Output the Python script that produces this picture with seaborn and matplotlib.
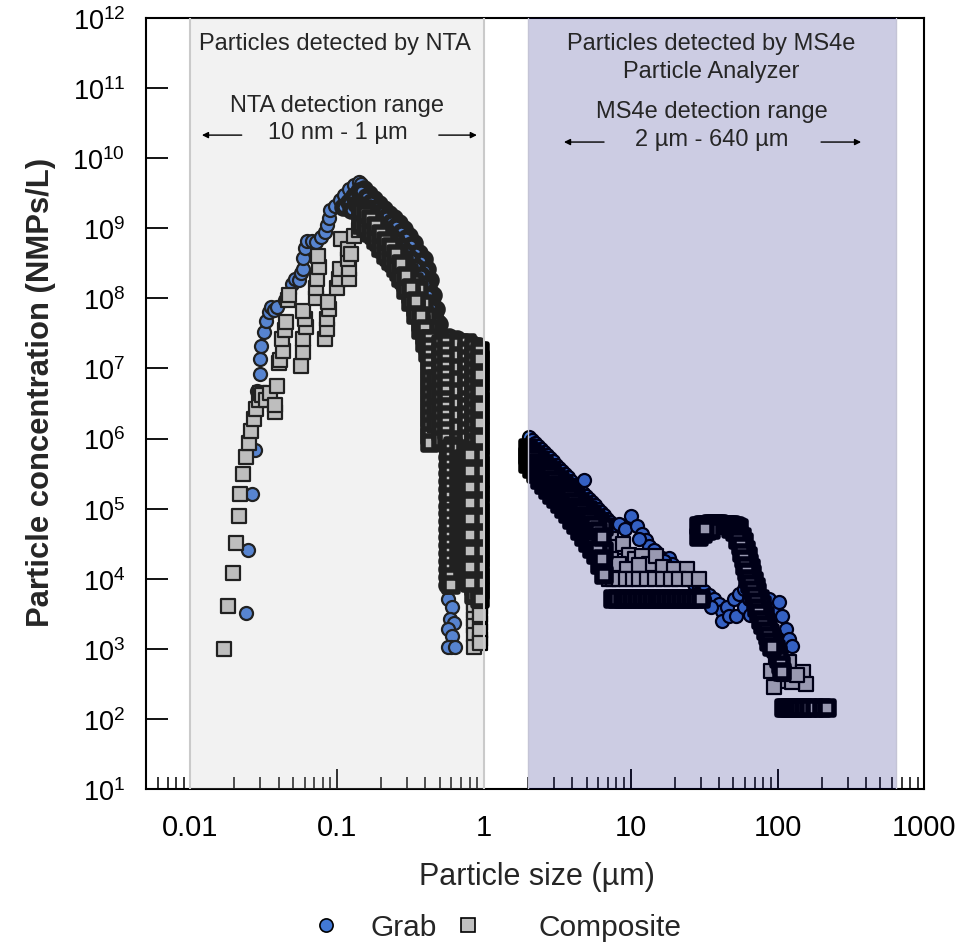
import numpy as np
import pandas as pd
import matplotlib
matplotlib.use('Agg')
import matplotlib.pyplot as plt
from matplotlib.lines import Line2D
from matplotlib.ticker import LogLocator, NullFormatter, NullLocator
import seaborn as sns

sns.set_style('ticks')
plt.rcParams['font.family'] = ['Liberation Sans', 'DejaVu Sans']
plt.rcParams['mathtext.fontset'] = 'custom'
plt.rcParams['mathtext.rm'] = 'Liberation Sans'
plt.rcParams['mathtext.default'] = 'regular'

# %% Data: (particle size in um, concentration in NMPs/L)
# "dense" lists are the heavily overplotted stretches that print as solid black
grab_nta = [
    (0.0238, 3.2e3), (0.0247, 2.6e4), (0.0263, 1.6e5), (0.0278, 6.8e5), (0.0284, 4.8e6),
    (0.0300, 8.3e6), (0.0300, 1.35e7), (0.0305, 2.1e7), (0.0316, 3.3e7), (0.0329, 4.7e7),
    (0.0343, 6.4e7), (0.0355, 7.5e7), (0.0370, 6.8e7), (0.0390, 7.4e7), (0.0440, 9.5e7),
    (0.0469, 1.2e8), (0.0490, 1.6e8), (0.0520, 1.9e8), (0.0550, 1.8e8), (0.0570, 2.3e8),
    (0.0590, 2.6e8), (0.0590, 3.7e8), (0.0608, 5.3e8), (0.0625, 6.6e8), (0.0676, 6.6e8),
    (0.0720, 6.3e8), (0.0780, 7.5e8), (0.0830, 8.7e8), (0.0855, 1.1e9), (0.0880, 1.4e9),
    (0.0900, 1.8e9), (0.0970, 2.1e9), (0.1050, 2.5e9), (0.1120, 3.0e9), (0.1200, 3.6e9),
    (0.1300, 4.2e9), (0.1400, 4.6e9), (0.1460, 4.3e9),
    (0.57, 5.1e3), (0.61, 4.0e3), (0.59, 2.7e3), (0.63, 2.3e3), (0.57, 1.9e3), (0.61, 1.5e3),
    (0.60, 1.05e3), (0.57, 1.05e3), (0.64, 1.05e3),
]

grab_nta_dense = [
    (0.1100, 2.0e9), (0.1200, 2.4e9), (0.1300, 2.9e9), (0.1400, 3.4e9), (0.1250, 1.8e9),
    (0.1350, 2.2e9), (0.1450, 2.6e9), (0.1550, 3.0e9),
    (0.152, 3.6e9), (0.152, 2.2e9), (0.164, 3.1e9), (0.164, 1.9e9), (0.178, 2.6e9),
    (0.178, 1.6e9), (0.192, 2.2e9), (0.192, 1.35e9), (0.208, 1.9e9), (0.208, 1.15e9),
    (0.225, 1.6e9), (0.225, 9.8e8), (0.243, 1.4e9), (0.243, 8.3e8), (0.264, 1.2e9),
    (0.264, 7.0e8), (0.285, 9.8e8), (0.285, 5.5e8), (0.308, 7.7e8), (0.308, 4.3e8),
    (0.333, 6.1e8), (0.333, 3.4e8), (0.360, 4.5e8), (0.360, 2.6e8), (0.390, 3.6e8),
    (0.390, 1.9e8), (0.409, 2.6e8), (0.409, 1.36e8), (0.429, 1.8e8), (0.429, 9.8e7),
    (0.449, 1.1e8), (0.449, 6.6e7), (0.471, 7.1e7), (0.471, 4.3e7), (0.493, 4.3e7),
    (0.493, 2.8e7),
    (0.146, 2.7e9), (0.158, 2.2e9), (0.171, 1.9e9), (0.185, 1.55e9), (0.200, 1.3e9),
    (0.216, 1.15e9), (0.234, 9.8e8), (0.253, 8.6e8), (0.274, 7.0e8), (0.296, 5.8e8),
    (0.321, 4.6e8), (0.347, 3.5e8), (0.375, 2.7e8), (0.399, 2.0e8), (0.418, 1.4e8),
    (0.439, 9.1e7), (0.460, 5.8e7), (0.482, 3.6e7),
    (0.146, 3.4e9), (0.158, 2.8e9), (0.171, 2.37e9), (0.185, 1.94e9), (0.200, 1.65e9),
    (0.216, 1.44e9), (0.234, 1.22e9), (0.253, 1.07e9), (0.274, 8.8e8), (0.296, 7.2e8),
    (0.321, 5.8e8), (0.347, 4.4e8), (0.375, 3.4e8), (0.399, 2.5e8), (0.418, 1.77e8),
    (0.439, 1.15e8), (0.460, 7.3e7), (0.482, 4.6e7),
    (0.146, 2.14e9), (0.158, 1.76e9), (0.171, 1.49e9), (0.185, 1.22e9), (0.200, 1.04e9),
    (0.216, 9.1e8), (0.234, 7.7e8), (0.253, 6.8e8), (0.274, 5.6e8), (0.296, 4.6e8),
    (0.321, 3.6e8), (0.347, 2.8e8), (0.375, 2.15e8), (0.399, 1.6e8), (0.418, 1.11e8),
    (0.439, 7.3e7), (0.460, 4.6e7), (0.482, 2.9e7),
    (0.52, 2.4e7), (0.58, 2.8e7), (0.66, 2.6e7), (0.74, 2.4e7), (0.82, 2.3e7), (0.90, 2.1e7),
    (0.55, 1.9e7), (0.55, 1.5e7), (0.55, 1.1e7), (0.55, 8.7e6), (0.55, 6.7e6), (0.55, 5.1e6),
    (0.55, 3.9e6), (0.60, 1.6e7), (0.60, 1.15e7), (0.60, 8.3e6), (0.60, 6.0e6), (0.60, 4.3e6),
    (0.77, 1.36e7), (0.77, 9.2e6), (0.77, 6.2e6), (0.77, 4.2e6),
    (0.90, 1.6e7), (0.90, 9.8e6), (0.90, 6.0e6), (0.90, 3.6e6),
    (0.56, 2.6e6), (0.56, 2.0e6), (0.56, 1.55e6), (0.56, 1.2e6), (0.56, 9.3e5), (0.56, 7.1e5),
    (0.56, 5.5e5), (0.56, 4.2e5), (0.56, 3.2e5), (0.56, 2.5e5), (0.56, 1.9e5), (0.56, 1.45e5),
    (0.56, 1.1e5), (0.56, 8.6e4), (0.56, 6.6e4), (0.56, 5.1e4), (0.56, 3.9e4), (0.56, 3.0e4),
    (0.56, 2.3e4), (0.56, 1.8e4), (0.56, 1.37e4), (0.56, 1.05e4), (0.56, 8.1e3),
]

comp_nta = [
    (0.0171, 1.0e3), (0.0181, 4.1e3), (0.0194, 1.2e4), (0.0204, 3.2e4), (0.0213, 7.8e4),
    (0.0219, 1.6e5), (0.0230, 3.1e5), (0.0238, 5.5e5), (0.0251, 8.7e5), (0.0261, 1.3e6),
    (0.0271, 1.9e6), (0.0282, 2.6e6), (0.0293, 3.6e6), (0.0300, 4.5e6), (0.0310, 4.2e6),
    (0.0330, 3.6e6), (0.0350, 4.4e6), (0.0375, 2.4e6), (0.0380, 3.0e6), (0.0390, 5.6e6),
    (0.0400, 1.2e7), (0.0410, 1.3e7), (0.0430, 1.8e7), (0.0420, 2.6e7), (0.0440, 3.5e7),
    (0.0450, 4.6e7), (0.0460, 9.4e7), (0.0470, 1.1e8), (0.0570, 1.1e7), (0.0590, 1.7e7),
    (0.0590, 2.6e7), (0.0610, 3.9e7), (0.0600, 5.0e7), (0.0590, 6.5e7), (0.0720, 1.0e8),
    (0.0720, 1.4e8), (0.0730, 1.9e8), (0.0750, 2.8e8), (0.0740, 4.0e8), (0.0830, 2.6e7),
    (0.0850, 3.6e7), (0.0860, 5.0e7), (0.0880, 7.1e7), (0.0870, 9.0e7), (0.1000, 1.4e8),
    (0.1030, 1.9e8), (0.1050, 2.6e8), (0.1070, 7.0e8), (0.1200, 1.9e8), (0.1200, 2.6e8),
    (0.1180, 3.6e8), (0.1180, 5.0e8), (0.1250, 4.3e8), (0.1300, 7.8e8), (0.1400, 9.5e8),
    (0.1500, 1.1e9),
    (0.86, 4.5e3), (0.86, 3.5e3), (0.86, 2.7e3), (0.86, 2.1e3), (0.86, 1.6e3), (0.86, 1.05e3),
    (0.94, 3.9e3), (0.94, 2.3e3), (0.94, 1.38e3), (0.94, 3.0e3), (0.94, 1.8e3), (0.94, 1.2e3),
]

comp_nta_dense = [
    (0.152, 1.3e9), (0.152, 1.9e9), (0.164, 1.05e9), (0.164, 1.6e9), (0.178, 8.0e8),
    (0.178, 1.3e9), (0.192, 6.3e8), (0.192, 9.8e8), (0.208, 5.0e8), (0.208, 7.7e8),
    (0.225, 3.9e8), (0.225, 6.3e8), (0.243, 3.2e8), (0.243, 5.0e8), (0.264, 2.4e8),
    (0.264, 4.0e8), (0.285, 1.8e8), (0.285, 3.1e8), (0.308, 1.3e8), (0.308, 2.3e8),
    (0.333, 9.0e7), (0.333, 1.7e8), (0.360, 5.7e7), (0.360, 1.3e8), (0.390, 3.6e7),
    (0.390, 8.3e7), (0.409, 2.6e7), (0.409, 5.4e7), (0.429, 1.9e7), (0.429, 3.6e7),
    (0.449, 1.36e7), (0.449, 2.2e7), (0.471, 9.8e6), (0.471, 1.6e7),
    (0.146, 1.4e9), (0.158, 1.27e9), (0.171, 1.08e9), (0.185, 8.6e8), (0.200, 6.6e8),
    (0.216, 5.2e8), (0.234, 4.3e8), (0.253, 3.5e8), (0.274, 2.5e8), (0.296, 1.65e8),
    (0.321, 1.12e8), (0.347, 7.3e7), (0.375, 4.5e7), (0.399, 2.9e7), (0.418, 2.1e7),
    (0.439, 1.5e7), (0.460, 1.05e7),
    (0.146, 1.11e9), (0.158, 1.0e9), (0.171, 8.6e8), (0.185, 6.8e8), (0.200, 5.2e8),
    (0.216, 4.15e8), (0.234, 3.4e8), (0.253, 2.7e8), (0.274, 1.95e8), (0.296, 1.31e8),
    (0.321, 8.9e7), (0.347, 5.8e7), (0.375, 3.5e7), (0.399, 2.3e7), (0.418, 1.66e7),
    (0.439, 1.19e7), (0.460, 8.6e6),
    (0.146, 1.76e9), (0.158, 1.6e9), (0.171, 1.35e9), (0.185, 1.07e9), (0.200, 8.3e8),
    (0.216, 6.6e8), (0.234, 5.4e8), (0.253, 4.3e8), (0.274, 3.1e8), (0.296, 2.08e8),
    (0.321, 1.39e8), (0.347, 9.1e7), (0.375, 5.6e7), (0.399, 3.6e7), (0.418, 2.6e7),
    (0.439, 1.9e7), (0.460, 1.36e7),
    (0.43, 2.6e7), (0.43, 2.0e7), (0.43, 1.55e7), (0.43, 1.2e7), (0.43, 9.2e6), (0.43, 7.1e6),
    (0.43, 5.5e6), (0.43, 4.2e6), (0.43, 3.2e6), (0.43, 2.5e6), (0.43, 1.9e6), (0.43, 1.45e6),
    (0.43, 1.1e6), (0.43, 8.6e5),
    (0.47, 7.1e6), (0.47, 4.3e6), (0.47, 2.6e6), (0.47, 1.6e6),
    (0.51, 2.2e7), (0.51, 1.7e7), (0.51, 1.3e7), (0.51, 1.0e7), (0.51, 7.7e6), (0.51, 6.0e6),
    (0.51, 4.6e6), (0.51, 3.5e6), (0.51, 2.7e6), (0.51, 2.1e6), (0.51, 1.6e6), (0.51, 1.24e6),
    (0.51, 9.5e5),
    (0.56, 2.3e7), (0.56, 1.77e7), (0.56, 1.36e7), (0.56, 1.05e7), (0.56, 8.05e6), (0.56, 6.2e6),
    (0.56, 4.76e6), (0.56, 3.6e6), (0.56, 2.81e6), (0.56, 2.16e6), (0.56, 1.66e6), (0.56, 1.28e6),
    (0.56, 9.8e5),
    (0.68, 2.2e7), (0.68, 1.5e7), (0.68, 1.0e7), (0.68, 6.9e6), (0.68, 4.6e6), (0.68, 3.1e6),
    (0.68, 2.1e6), (0.68, 1.4e6), (0.68, 9.5e5),
    (0.77, 2.3e7), (0.77, 1.77e7), (0.77, 1.36e7), (0.77, 1.05e7), (0.77, 8.05e6), (0.77, 6.2e6),
    (0.77, 4.76e6), (0.77, 3.6e6), (0.77, 2.81e6), (0.77, 2.16e6), (0.77, 1.66e6), (0.77, 1.28e6),
    (0.77, 9.8e5),
    (0.86, 2.0e7), (0.86, 1.55e7), (0.86, 1.2e7), (0.86, 9.2e6), (0.86, 7.1e6), (0.86, 5.5e6),
    (0.86, 4.2e6), (0.86, 3.2e6), (0.86, 2.5e6), (0.86, 1.9e6), (0.86, 1.45e6), (0.86, 1.1e6),
    (0.86, 8.6e5), (0.86, 6.6e5), (0.86, 5.1e5), (0.86, 3.9e5), (0.86, 3.0e5), (0.86, 2.3e5),
    (0.86, 1.75e5), (0.86, 1.37e5), (0.86, 1.05e5), (0.86, 8.1e4), (0.86, 6.2e4), (0.86, 4.8e4),
    (0.86, 3.7e4), (0.86, 2.8e4), (0.86, 2.2e4), (0.86, 1.66e4), (0.86, 1.28e4), (0.86, 1.0e4),
    (0.86, 7.6e3), (0.86, 5.9e3),
    (0.94, 1.8e7), (0.94, 1.05e7), (0.94, 6.2e6), (0.94, 3.6e6), (0.94, 2.1e6), (0.94, 1.3e6),
    (0.94, 7.6e5), (0.94, 4.4e5), (0.94, 2.6e5), (0.94, 1.6e5), (0.94, 9.2e4), (0.94, 5.4e4),
    (0.94, 3.2e4), (0.94, 1.9e4), (0.94, 1.1e4), (0.94, 6.7e3),
    (0.94, 1.36e7), (0.94, 8.05e6), (0.94, 4.76e6), (0.94, 2.81e6), (0.94, 1.66e6), (0.94, 9.8e5),
    (0.94, 5.8e5), (0.94, 3.4e5), (0.94, 2.03e5), (0.94, 1.2e5), (0.94, 7.1e4), (0.94, 4.2e4),
    (0.94, 2.5e4), (0.94, 1.47e4), (0.94, 8.7e3), (0.94, 5.1e3),
    (0.62, 7.9e5), (0.62, 6.1e5), (0.62, 4.7e5), (0.62, 3.6e5), (0.62, 2.8e5), (0.62, 2.1e5),
    (0.62, 1.65e5), (0.62, 1.27e5), (0.62, 9.8e4), (0.62, 7.5e4), (0.62, 5.8e4), (0.62, 4.5e4),
    (0.62, 3.4e4), (0.62, 2.6e4), (0.62, 2.0e4), (0.62, 1.55e4), (0.62, 1.2e4), (0.62, 9.2e3),
    (0.60, 7.1e5), (0.60, 5.4e5), (0.60, 4.2e5), (0.60, 3.2e5), (0.60, 2.5e5), (0.60, 1.9e5),
    (0.60, 1.46e5), (0.60, 1.1e5), (0.60, 8.6e4), (0.60, 6.6e4), (0.60, 5.1e4), (0.60, 3.9e4),
    (0.60, 3.0e4), (0.60, 2.3e4), (0.60, 1.78e4), (0.60, 1.37e4), (0.60, 1.05e4), (0.60, 8.1e3),
    (0.68, 7.1e5), (0.68, 4.2e5), (0.68, 2.5e5), (0.68, 1.48e5), (0.68, 8.6e4), (0.68, 5.1e4),
    (0.68, 3.0e4), (0.68, 1.8e4),
    (0.72, 5.1e5), (0.72, 3.0e5), (0.72, 1.75e5), (0.72, 1.05e5), (0.72, 6.2e4), (0.72, 3.7e4),
    (0.72, 2.2e4), (0.72, 1.28e4),
    (0.76, 6.6e5), (0.76, 3.9e5), (0.76, 2.3e5), (0.76, 1.37e5), (0.76, 8.1e4), (0.76, 4.8e4),
    (0.76, 2.8e4), (0.76, 1.66e4), (0.76, 1.0e4),
    (0.80, 5.8e5), (0.80, 3.4e5), (0.80, 2.03e5), (0.80, 1.2e5), (0.80, 7.1e4), (0.80, 4.2e4),
    (0.80, 2.5e4), (0.80, 1.47e4), (0.80, 8.7e3),
]

grab_ms4e = [
    (2.03, 1.05e6), (2.12, 9.5e5), (2.23, 8.6e5), (2.33, 7.8e5), (2.44, 7.1e5), (2.56, 6.4e5),
    (2.69, 5.8e5), (2.82, 5.3e5), (2.96, 4.8e5), (3.10, 4.2e5), (3.24, 3.8e5), (3.40, 3.4e5),
    (3.57, 3.1e5), (3.74, 2.8e5), (3.92, 2.5e5), (4.11, 2.2e5), (4.30, 2.0e5), (4.52, 1.8e5),
    (4.73, 1.65e5), (4.96, 1.5e5), (5.20, 1.37e5), (5.45, 1.24e5), (5.71, 1.13e5), (5.98, 9.8e4),
    (6.28, 8.9e4), (6.58, 8.1e4), (6.89, 7.1e4), (7.20, 6.4e4), (7.60, 5.8e4), (4.81, 2.6e5),
    (8.3, 6.1e4), (9.1, 5.1e4), (10.1, 7.9e4), (11.0, 5.6e4), (12.0, 4.4e4), (12.7, 3.6e4),
    (13.3, 2.9e4), (14.9, 2.4e4), (16.4, 2.0e4), (18.2, 2.0e4), (19.1, 1.6e4), (20.4, 1.37e4),
    (11.4, 3.7e4), (14.4, 2.6e4), (16.9, 1.8e4), (21.3, 1.3e4),
    (25.0, 1.0e4), (27.0, 8.4e3), (29.2, 7.6e3), (31.6, 6.7e3), (34.2, 5.9e3), (37.0, 5.1e3),
    (40.0, 4.4e3), (42.0, 3.5e3), (42.0, 2.5e3), (45.5, 4.0e3), (46.8, 2.9e3), (52.5, 2.9e3),
    (50.6, 5.1e3), (54.7, 6.0e3), (59.0, 7.1e3), (59.0, 4.0e3), (65.0, 3.0e3), (64.0, 5.1e3),
    (69.0, 4.4e3), (35.5, 4.0e3), (31.6, 5.1e3), (28.0, 6.0e3), (75.0, 5.4e3), (81.0, 5.1e3),
    (87.7, 5.1e3), (94.8, 3.7e3), (102.6, 4.6e3), (108.0, 2.9e3), (115.0, 1.9e3), (120.0, 1.4e3),
    (125.0, 1.1e3),
]

comp_ms4e = [
    (7.3, 3.7e4), (8.1, 2.8e4), (8.8, 3.1e4), (9.7, 2.2e4), (10.7, 1.9e4), (11.9, 2.1e4),
    (13.3, 1.6e4), (14.9, 2.1e4), (16.6, 1.45e4), (7.3, 1.9e4), (8.3, 1.6e4), (9.4, 1.37e4),
    (11.4, 1.57e4), (19.7, 1.37e4), (24.0, 1.37e4),
    (7.1, 1.0e4), (7.6, 1.0e4), (8.3, 1.0e4), (9.3, 1.0e4), (10.3, 1.0e4), (11.4, 1.0e4),
    (12.9, 1.0e4), (14.6, 1.0e4), (16.6, 1.0e4), (18.8, 1.0e4), (21.3, 1.0e4), (25.0, 1.0e4),
    (29.2, 1.0e4),
    (98.0, 7.9e2), (120.0, 6.5e2), (148.0, 4.6e2), (156.0, 3.1e2), (102.6, 3.5e2), (126.0, 3.4e2),
    (94.8, 2.9e2), (111.0, 4.4e2), (136.0, 4.2e2), (90.0, 4.8e2),
]

comp_ms4e_dense = [
    (2.00, 7.3e5), (2.00, 5.6e5), (2.00, 4.3e5), (2.12, 6.4e5), (2.12, 4.9e5), (2.12, 3.7e5),
    (2.26, 5.6e5), (2.26, 4.2e5), (2.26, 3.1e5), (2.41, 4.9e5), (2.41, 3.7e5), (2.41, 2.6e5),
    (2.56, 4.3e5), (2.56, 3.1e5), (2.56, 2.2e5), (2.73, 3.8e5), (2.73, 2.6e5), (2.73, 1.84e5),
    (2.91, 3.3e5), (2.91, 2.3e5), (2.91, 1.56e5), (3.10, 2.8e5), (3.10, 1.97e5), (3.10, 1.37e5),
    (3.30, 2.5e5), (3.30, 1.73e5), (3.30, 1.16e5), (3.51, 2.2e5), (3.51, 1.46e5), (3.51, 9.9e4),
    (3.74, 1.9e5), (3.74, 1.28e5), (3.74, 8.4e4), (3.98, 1.67e5), (3.98, 1.09e5), (3.98, 6.9e4),
    (4.24, 1.46e5), (4.24, 9.2e4), (4.24, 5.8e4), (4.52, 1.24e5), (4.52, 7.8e4), (4.52, 4.8e4),
    (4.81, 1.09e5), (4.81, 6.7e4), (4.81, 3.9e4), (5.12, 9.5e4), (5.12, 5.6e4), (5.12, 3.2e4),
    (5.45, 8.4e4), (5.45, 4.8e4), (5.45, 2.65e4), (5.81, 7.1e4), (5.81, 3.9e4), (5.81, 2.2e4),
    (6.19, 6.2e4), (6.19, 3.1e4), (6.19, 1.57e4), (6.58, 5.5e4), (6.58, 2.5e4), (6.58, 1.13e4),
    (2.06, 6.0e5), (2.06, 4.6e5), (2.19, 5.3e5), (2.19, 3.9e5), (2.33, 4.5e5), (2.33, 3.36e5),
    (2.49, 3.95e5), (2.49, 2.85e5), (2.65, 3.4e5), (2.65, 2.4e5), (2.82, 2.97e5), (2.82, 2.05e5),
    (3.00, 2.56e5), (3.00, 1.77e5), (3.19, 2.2e5), (3.19, 1.52e5), (3.40, 1.92e5), (3.40, 1.3e5),
    (3.62, 1.67e5), (3.62, 1.12e5), (3.86, 1.45e5), (3.86, 9.5e4), (4.11, 1.25e5), (4.11, 8.0e4),
    (4.37, 1.07e5), (4.37, 6.7e4), (4.66, 9.2e4), (4.66, 5.6e4), (4.96, 7.9e4), (4.96, 4.7e4),
    (5.28, 6.8e4), (5.28, 3.9e4), (5.62, 5.8e4), (5.62, 3.2e4), (5.98, 4.8e4), (5.98, 2.55e4),
    (6.37, 4.0e4), (6.37, 1.93e4),
    (7.6, 5.1e3), (8.1, 5.1e3), (8.8, 5.1e3), (9.4, 5.1e3), (10.2, 5.1e3), (11.0, 5.1e3),
    (11.9, 5.1e3), (12.9, 5.1e3), (13.9, 5.1e3), (15.0, 5.1e3), (16.2, 5.1e3), (17.5, 5.1e3),
    (18.9, 5.1e3), (20.5, 5.1e3), (22.1, 5.1e3), (23.9, 5.1e3), (25.8, 5.1e3), (27.9, 5.1e3),
    (30.1, 5.1e3),
    (29.2, 5.6e4), (31.2, 5.8e4), (33.3, 5.8e4), (35.5, 6.0e4), (37.6, 6.0e4), (40.0, 6.0e4),
    (42.7, 5.8e4), (45.4, 5.8e4), (48.4, 5.8e4), (51.6, 5.6e4), (54.7, 5.3e4),
    (30.2, 5.7e4), (32.2, 5.8e4), (34.4, 5.9e4), (36.5, 6.0e4), (38.8, 6.0e4), (41.3, 5.9e4),
    (44.0, 5.8e4), (46.9, 5.8e4), (50.0, 5.7e4), (53.0, 5.4e4),
    (29.2, 4.0e4), (31.2, 4.4e4), (33.3, 4.8e4), (35.5, 5.0e4), (30.2, 4.8e4), (32.2, 5.2e4),
    (48.4, 5.1e4), (51.6, 4.6e4), (54.7, 4.2e4),
    (57.3, 3.9e4), (59.0, 3.3e4), (61.0, 2.6e4), (62.5, 2.1e4), (64.0, 1.7e4), (66.0, 1.4e4),
    (67.5, 1.15e4), (69.0, 9.3e3), (71.0, 7.6e3), (73.0, 6.4e3), (76.0, 5.1e3), (78.0, 4.2e3),
    (80.0, 3.5e3), (82.0, 2.9e3), (84.0, 2.4e3), (86.0, 2.0e3), (89.0, 1.7e3), (91.0, 1.45e3),
    (94.0, 1.25e3), (97.0, 1.0e3), (100.0, 8.5e2), (102.6, 7.1e2), (105.0, 5.9e2), (108.0, 4.6e2),
    (54.0, 3.6e4), (56.0, 2.9e4), (57.5, 2.3e4), (59.0, 1.9e4), (60.5, 1.5e4), (62.0, 1.25e4),
    (63.0, 1.0e4), (65.0, 8.4e3), (67.0, 7.0e3), (69.0, 5.6e3), (71.0, 4.6e3), (73.0, 3.8e3),
    (75.0, 3.2e3), (77.0, 2.6e3), (80.0, 2.2e3), (83.0, 1.8e3), (86.0, 1.5e3), (88.0, 1.25e3),
    (91.0, 1.05e3),
    (110.0, 1.45e2), (115.0, 1.45e2), (120.0, 1.45e2), (126.0, 1.45e2), (132.0, 1.45e2),
    (140.0, 1.45e2), (152.0, 1.45e2), (165.0, 1.45e2), (180.0, 1.45e2), (200.0, 1.45e2),
    (219.0, 1.45e2),
]

x_ticks = [0.01, 0.1, 1, 10, 100, 1000]
x_tick_labels = ['0.01', '0.1', '1', '10', '100', '1000']
y_exponents = [1, 2, 3, 4, 5, 6, 7, 8, 9, 10, 11, 12]

colors = {'Grab': '#4279d6', 'Composite': '#c0c0c0'}
markers = {'Grab': 'o', 'Composite': 's'}

# %% Build the table (row order = drawing order: Grab under Composite)
parts = []
for sample, dense, pts in [('Grab', False, grab_nta), ('Grab', False, grab_ms4e),
                           ('Grab', True, grab_nta_dense),
                           ('Composite', False, comp_nta), ('Composite', False, comp_ms4e),
                           ('Composite', True, comp_nta_dense), ('Composite', True, comp_ms4e_dense)]:
    part = pd.DataFrame(pts, columns=['size', 'conc'])
    part['sample'] = sample
    part['dense'] = dense
    parts.append(part)
df = pd.concat(parts, ignore_index=True)

# %% Plot
fig, ax = plt.subplots(figsize=(9.74, 9.45), dpi=100)
fig.subplots_adjust(left=0.150, right=0.949, top=0.980, bottom=0.164)

for (sample, dense), sub in df.groupby(['sample', 'dense'], sort=False):
    sns.scatterplot(data=sub, x='size', y='conc', color=colors[sample], marker=markers[sample],
                    s=88, edgecolor='black', linewidth=4.0 if dense else 1.6,
                    legend=False, ax=ax, zorder=2)
ax.set_xscale('log')
ax.set_yscale('log')
ax.set_xlim(0.005, 1000)
ax.set_ylim(10, 1e12)

# detection windows, laid over the markers
ax.axvspan(0.01, 1, color='#b9b9b9', alpha=0.18, lw=0, zorder=3)
ax.axvspan(2, 640, color='#000077', alpha=0.2, lw=0, zorder=3)
for xv in [0.01, 1]:
    ax.axvline(xv, color='#cacaca', lw=1.5, zorder=3)
for xv in [2, 640]:
    ax.axvline(xv, color='#c4c4d6', lw=1.0, zorder=3)

tr = ax.get_xaxis_transform()
txt = dict(transform=tr, ha='center', va='center', fontsize=17, zorder=6)
ax.text(0.0964, 0.9676, 'Particles detected by NTA', **txt)
ax.text(0.0994, 0.887, 'NTA detection range', **txt)
ax.text(0.101, 0.852, '10 nm - 1 µm', **txt)
ax.text(35.3, 0.9676, 'Particles detected by MS4e', **txt)
ax.text(35.3, 0.9313, 'Particle Analyzer', **txt)
ax.text(35.8, 0.879, 'MS4e detection range', **txt)
ax.text(35.8, 0.843, '2 µm - 640 µm', **txt)

arrow = dict(arrowstyle='-|>', color='black', lw=1.0, mutation_scale=9, shrinkA=0, shrinkB=0)
for head, tail, yy in [(0.012, 0.0224, 0.848), (0.896, 0.493, 0.848),
                       (3.51, 6.58, 0.839), (371, 198, 0.839)]:
    ax.annotate('', xy=(head, yy), xytext=(tail, yy), xycoords=tr, textcoords=tr,
                arrowprops=arrow, zorder=6)

# %% Axes styling
ax.set_xticks(x_ticks, x_tick_labels)
ax.xaxis.set_minor_locator(LogLocator(base=10, subs=np.arange(2, 10), numticks=20))
ax.xaxis.set_minor_formatter(NullFormatter())
ax.set_yticks([10.0 ** e for e in y_exponents], [r'$10^{%d}$' % e for e in y_exponents])
ax.yaxis.set_minor_locator(NullLocator())
ax.tick_params(axis='both', which='both', direction='in', colors='black')
ax.tick_params(axis='x', which='major', length=14.5, width=1.3, pad=17, labelsize=21)
ax.tick_params(axis='x', which='minor', length=8.5, width=1.1)
ax.tick_params(axis='y', which='major', length=16, width=1.3, pad=15, labelsize=19.5)
for sp in ax.spines.values():
    sp.set_color('black')
    sp.set_linewidth(1.5)

ax.set_xlabel('Particle size (µm)', fontsize=22)
ax.set_ylabel('Particle concentration (NMPs/L)', fontsize=22.3, fontweight='bold')
ax.xaxis.set_label_coords(0.502, -0.093)
ax.yaxis.set_label_coords(-0.116, 0.516)

# legend: two entries with the spacing of the original
for k, anchor_x, pad in [('Grab', 310.7, 1.0), ('Composite', 452.7, 1.886)]:
    h = Line2D([], [], ls='none', marker=markers[k], markersize=9.5,
               markerfacecolor=colors[k], markeredgecolor='black', markeredgewidth=1.2)
    fig.legend([h], [k], loc='center left', bbox_to_anchor=(anchor_x / 974, 1 - 928 / 945),
               frameon=False, fontsize=21.5, handlelength=1.0, handletextpad=pad,
               borderpad=0, borderaxespad=0)

plt.savefig('out.png', dpi=100)
